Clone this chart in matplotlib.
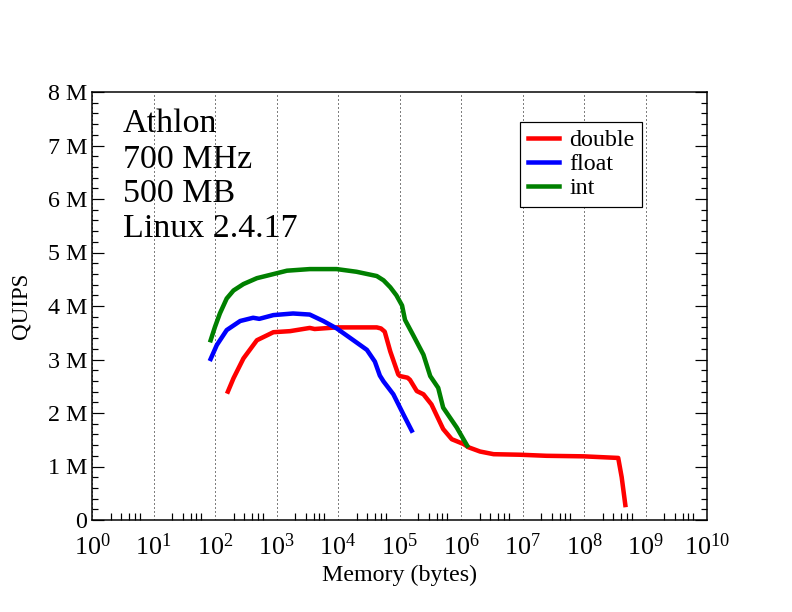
import matplotlib
matplotlib.use("Agg")
import matplotlib.pyplot as plt
from matplotlib.ticker import LogLocator, FixedLocator, MultipleLocator, NullFormatter

plt.rcParams['font.family'] = ['Liberation Serif', 'DejaVu Serif']
plt.rcParams['mathtext.fontset'] = 'custom'
plt.rcParams['mathtext.rm'] = 'Liberation Serif'

# QUIPS (millions) vs memory (bytes)
int_mem = [85, 100, 120, 155, 200, 290, 480, 780, 1480, 3470, 9500, 20000, 42700,
           55000, 70800, 89000, 110000, 123000, 166000, 245000, 316000, 426000,
           513000, 851000, 1260000]
int_quips = [3.36, 3.61, 3.86, 4.14, 4.29, 4.41, 4.52, 4.58, 4.66, 4.69, 4.69, 4.64, 4.56,
             4.48, 4.35, 4.20, 4.01, 3.74, 3.46, 3.09, 2.69, 2.47,
             2.10, 1.73, 1.39]

float_mem = [85, 107, 155, 257, 417, 525, 890, 1860, 3470, 5750, 9550, 17800, 29500,
             39800, 47900, 55000, 79400, 115000, 158000]
float_quips = [3.01, 3.27, 3.55, 3.72, 3.78, 3.76, 3.83, 3.86, 3.84, 3.72, 3.58, 3.36, 3.18,
               2.96, 2.70, 2.59, 2.35, 1.98, 1.67]

double_mem = [162, 200, 290, 480, 890, 1660, 3470, 4170, 9550, 42700, 50000, 57500,
              70800, 95500, 102000, 135000, 148000, 191000, 245000, 331000, 513000,
              708000, 1100000, 1320000, 2040000, 3390000, 9120000, 2.45e7, 9.8e7,
              3.6e8, 4.1e8, 4.7e8]
double_quips = [2.40, 2.65, 3.02, 3.36, 3.51, 3.53, 3.59, 3.57, 3.60, 3.60, 3.58, 3.52,
                3.15, 2.72, 2.69, 2.66, 2.62, 2.41, 2.35, 2.16, 1.70,
                1.51, 1.42, 1.36, 1.28, 1.23, 1.22, 1.20, 1.19,
                1.16, 0.80, 0.28]

y_ticks = [0, 1, 2, 3, 4, 5, 6, 7, 8]
y_labels = ["0"] + [f"{v} M" for v in y_ticks[1:]]
info_lines = ["Athlon", "700 MHz", "500 MB", "Linux 2.4.17"]

fig = plt.figure(figsize=(11, 8.5), dpi=72)
ax = fig.add_axes([92 / 792, 92 / 612, 615 / 792, 428 / 612])

ax.plot(double_mem, double_quips, color='red', lw=4.5, label='double')
ax.plot(float_mem, float_quips, color='blue', lw=4.5, label='float')
ax.plot(int_mem, int_quips, color='green', lw=4.5, label='int')

ax.set_xscale('log')
ax.set_xlim(1, 1e10)
ax.set_ylim(0, 8)

ax.xaxis.set_major_locator(LogLocator(base=10, numticks=20))
ax.xaxis.set_minor_locator(LogLocator(base=10, subs=[2, 3, 4, 5, 6], numticks=20))
ax.xaxis.set_minor_formatter(NullFormatter())
ax.yaxis.set_major_locator(FixedLocator(y_ticks))
ax.set_yticklabels(y_labels)
ax.yaxis.set_minor_locator(MultipleLocator(0.2))

ax.tick_params(axis='both', which='both', direction='in', top=False, right=True, width=1.2)
ax.tick_params(axis='x', which='major', length=0, labelsize=26, pad=13)
ax.tick_params(axis='x', which='minor', length=7)
ax.tick_params(axis='y', which='major', length=12, labelsize=24, pad=5)
ax.tick_params(axis='y', which='minor', length=6)

ax.grid(axis='x', which='major', color='black', linestyle=(0, (1, 3)), linewidth=1)

for s in ax.spines.values():
    s.set_linewidth(1.5)

ax.set_xlabel("Memory (bytes)", fontsize=24, labelpad=5)
ax.set_ylabel("QUIPS", fontsize=23, labelpad=16)

base_px = [132, 168, 202, 237]
for line, py in zip(info_lines, base_px):
    ax.text(31 / 615, (520 - py) / 428, line, transform=ax.transAxes,
            fontsize=34, va='baseline', ha='left')

leg = ax.legend(loc='upper right', bbox_to_anchor=(550 / 615, 398 / 428), fontsize=24,
                frameon=True, fancybox=False, framealpha=1, edgecolor='black',
                borderpad=0.3, labelspacing=0.1, handlelength=1.3, handletextpad=0.45,
                borderaxespad=0)
leg.get_frame().set_linewidth(1.2)

fig.savefig("out.png", dpi=72)
